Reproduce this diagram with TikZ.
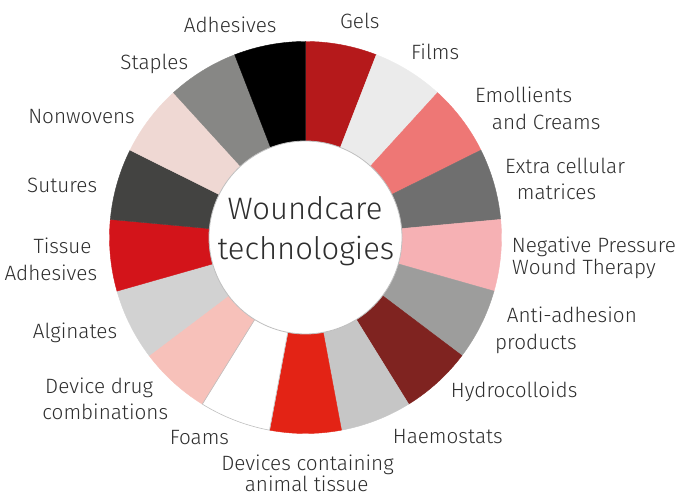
\documentclass[tikz,border=0pt]{standalone}
\usepackage{fontspec}
\setmainfont{Fira Sans Light}
\definecolor{txt}{HTML}{2E2E2E}
\definecolor{cgels}{HTML}{B5191B}
\definecolor{cfilms}{HTML}{EBEBEB}
\definecolor{cemol}{HTML}{EE7775}
\definecolor{cecm}{HTML}{6F6F6F}
\definecolor{cnpwt}{HTML}{F6B1B4}
\definecolor{canti}{HTML}{9D9D9C}
\definecolor{chydro}{HTML}{7F2320}
\definecolor{chaemo}{HTML}{C6C6C6}
\definecolor{canimal}{HTML}{E32315}
\definecolor{cfoams}{HTML}{FFFFFF}
\definecolor{cddc}{HTML}{F7C1BA}
\definecolor{calgin}{HTML}{D2D2D2}
\definecolor{ctissue}{HTML}{D3141A}
\definecolor{csutures}{HTML}{434341}
\definecolor{cnonwov}{HTML}{EFD8D3}
\definecolor{cstaples}{HTML}{878785}
\definecolor{cadhes}{HTML}{000000}
\begin{document}
\begin{tikzpicture}[x=1pt,y=1pt,
  labr/.style={anchor=base west, font=\fontsize{20.7}{25}\selectfont, text=txt, inner sep=0pt},
  labl/.style={anchor=base east, font=\fontsize{20.7}{25}\selectfont, text=txt, inner sep=0pt},
  labc/.style={anchor=base, font=\fontsize{20.7}{25}\selectfont, text=txt, inner sep=0pt},
  ttl/.style={anchor=base, font=\fontsize{31}{38}\selectfont, text=txt, inner sep=0pt},
  hubstyle/.style={circle, fill=white, draw=black!25, line width=0.8pt, minimum size=193pt, inner sep=0pt}]
\useasboundingbox (0,0) rectangle (679,495);
\coordinate (C) at (305.5,257.5);
\def\ro{196}\def\ri{88}
\foreach \col [count=\i from 0] in {cgels,cfilms,cemol,cecm,cnpwt,canti,chydro,chaemo,canimal,cfoams,cddc,calgin,ctissue,csutures,cnonwov,cstaples,cadhes}{
  \pgfmathsetmacro\s{90-\i*360/17}
  \pgfmathsetmacro\e{\s-360/17}
  \path[fill=\col, draw=\col, line width=0.4pt] ([shift={(\s:\ro)}]C) arc[start angle=\s,end angle=\e,radius=\ro] -- ([shift={(\e:\ri)}]C) arc[start angle=\e,end angle=\s,radius=\ri] -- cycle;
}
% outline of the white Foams segment
\pgfmathsetmacro\fs{90-9*360/17}
\pgfmathsetmacro\fe{\fs-360/17}
\path[draw=black!25, line width=0.6pt] ([shift={(\fs:\ro)}]C) arc[start angle=\fs,end angle=\fe,radius=\ro] -- ([shift={(\fe:\ri)}]C) arc[start angle=\fe,end angle=\fs,radius=\ri] -- cycle;
\node[hubstyle] (hub) at (C) {};
\node[ttl] (t1) at (305,275) {Woundcare};
\node[ttl] (t2) at (306,235.5) {technologies};
% right side
\node[labr] (gels) at (340,466) {Gels};
\node[labr] (films) at (411,435) {Films};
\node[labr] (emol1) at (475,392.7) {Emollients};
\node[labr] (emol2) at (491.7,365.7) {and Creams};
\node[labr] (ecm1) at (505,321) {Extra cellular};
\node[labr] (ecm2) at (516.7,295) {matrices};
\node[labr] (npwt1) at (511.7,242.3) {Negative Pressure};
\node[labr] (npwt2) at (512,220) {Wound Therapy};
\node[labr] (anti1) at (506.7,172.3) {Anti-adhesion};
\node[labr] (anti2) at (495,145) {products};
\node[labr] (hydro) at (450.7,97.3) {Hydrocolloids};
\node[labr] (haemo) at (392.7,51.7) {Haemostats};
% bottom
\node[labc] (anim1) at (307.5,25) {Devices containing};
\node[labc] (anim2) at (306.7,4) {animal tissue};
% left side
\node[labl] (foams) at (229.3,50.7) {Foams};
\node[labl] (ddc1) at (153.3,101.7) {Device drug};
\node[labl] (ddc2) at (168.3,75.7) {combinations};
\node[labl] (algin) at (117.3,156) {Alginates};
\node[labl] (tis1) at (91.7,241) {Tissue};
\node[labl] (tis2) at (97.3,214) {Adhesives};
\node[labl] (sut) at (97.3,302.7) {Sutures};
\node[labl] (nonw) at (135,371.7) {Nonwovens};
\node[labl] (stap) at (188.3,425.7) {Staples};
\node[labl] (adh) at (276.7,462.3) {Adhesives};
\end{tikzpicture}
\end{document}
